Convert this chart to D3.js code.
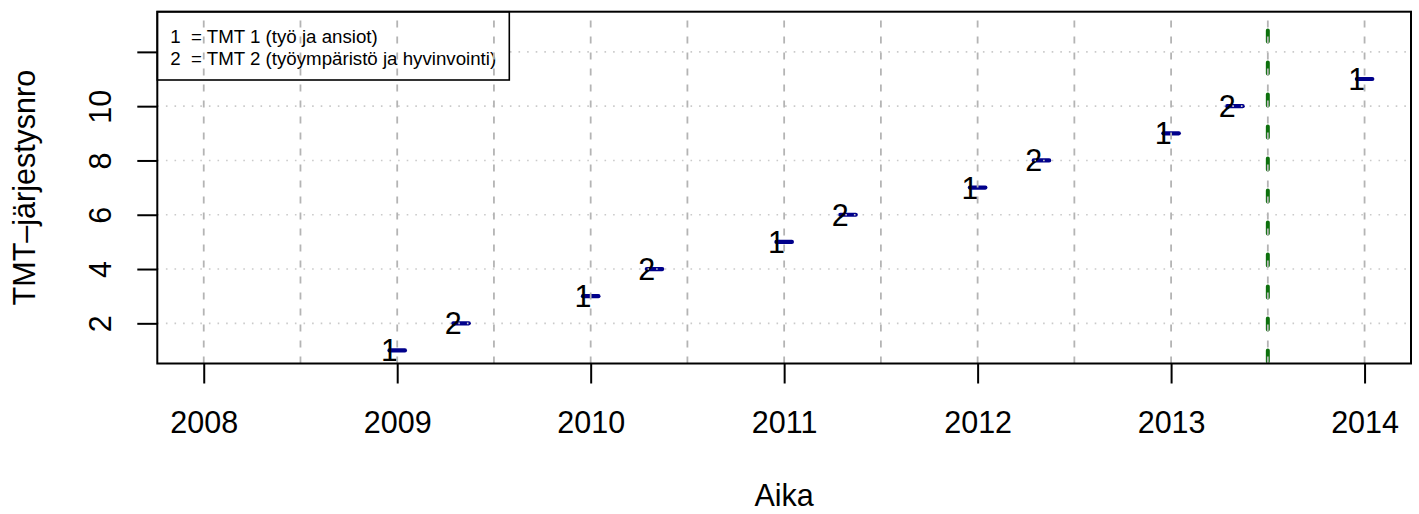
<!DOCTYPE html>
<html>
<head>
<meta charset="utf-8">
<script src="https://cdn.jsdelivr.net/npm/d3@7/dist/d3.min.js"></script>
<style>
  html, body { margin: 0; padding: 0; background: #fff; }
  svg { display: block; font-family: "Liberation Sans", Arial, Helvetica, sans-serif; }
</style>
</head>
<body>
<svg id="chart" width="1419" height="514"></svg>
<script>
// ---- data ----
const tmtNro   = [1, 2, 3, 4, 5, 6, 7, 8, 9, 10, 11];
const tmtTyyppi = ["1", "2", "1", "2", "1", "2", "1", "2", "1", "2", "1"];
const alku  = [2008.96, 2009.29, 2009.96, 2010.29, 2010.96, 2011.29, 2011.96, 2012.29, 2012.96, 2013.29, 2013.96];
const loppu = [2009.04, 2009.37, 2010.04, 2010.37, 2011.04, 2011.37, 2012.04, 2012.37, 2013.04, 2013.37, 2014.04];
const xTicks = [2008, 2009, 2010, 2011, 2012, 2013, 2014];
const xGrid  = [2008, 2008.5, 2009, 2009.5, 2010, 2010.5, 2011, 2011.5, 2012, 2012.5, 2013, 2013.5, 2014];
const yTicks = [2, 4, 6, 8, 10, 12];
const yLabels = ["2", "4", "6", "8", "10", ""];
const nykyhetki = [2013.5];
const legendSymbols = ["1", "2"];
const legendTexts = ["= TMT 1 (työ ja ansiot)", "= TMT 2 (työympäristö ja hyvinvointi)"];
const xTitle = "Aika";
const yTitle = "TMT–järjestysnro";

// ---- layout ----
const L = 157.3, R = 1411, T = 11.7, B = 363.5;
const svg = d3.select("#chart");
const x = d3.scaleLinear().domain([2007.76, 2014.24]).range([L, R]);
const y = d3.scaleLinear().domain([0.52, 13.48]).range([B, T]);
const FS = 30.5;

svg.append("defs").append("clipPath").attr("id", "clip")
  .append("rect").attr("x", L).attr("y", T).attr("width", R - L).attr("height", B - T);
const plot = svg.append("g").attr("clip-path", "url(#clip)");

const rows = tmtNro.map((n, i) => ({ n, t: tmtTyyppi[i], a: alku[i], l: loppu[i] }));

// segments
plot.selectAll("line.seg").data(rows).join("line")
  .attr("class", "seg")
  .attr("x1", d => x(d.a)).attr("x2", d => x(d.l))
  .attr("y1", d => y(d.n)).attr("y2", d => y(d.n))
  .attr("stroke", "#00008B").attr("stroke-width", 4.2).attr("stroke-linecap", "round");

// labels
plot.selectAll("text.lab").data(rows).join("text")
  .attr("class", "lab")
  .attr("x", d => x(d.a)).attr("y", d => y(d.n))
  .attr("dy", "0.36em")
  .attr("text-anchor", "middle")
  .attr("font-size", FS)
  .attr("fill", "#000")
  .text(d => d.t);

// horizontal grid (dotted)
plot.selectAll("line.hg").data(yTicks).join("line")
  .attr("class", "hg")
  .attr("x1", L).attr("x2", R)
  .attr("y1", d => y(d)).attr("y2", d => y(d))
  .attr("stroke", "#cacaca").attr("stroke-width", 1.6)
  .attr("stroke-dasharray", "1.6,7");

// legend box
const lg = svg.append("g");
lg.append("rect").attr("x", L).attr("y", T).attr("width", 509.3 - L).attr("height", 80 - T)
  .attr("fill", "#fff").attr("stroke", "#000").attr("stroke-width", 1.6);
legendSymbols.forEach((s, i) => {
  lg.append("text").attr("x", 175.5).attr("y", 43.3 + i * 21.2)
    .attr("text-anchor", "middle").attr("font-size", 18.7).text(s);
  lg.append("text").attr("x", 191).attr("y", 43.3 + i * 21.2)
    .attr("font-size", 18.7).text(legendTexts[i]);
});

// green line (current moment)
plot.selectAll("line.now").data(nykyhetki).join("line")
  .attr("class", "now")
  .attr("x1", d => x(d)).attr("x2", d => x(d))
  .attr("y1", B - 2).attr("y2", T)
  .attr("stroke", "#0d700d").attr("stroke-width", 4)
  .attr("stroke-linecap", "round")
  .attr("stroke-dasharray", "11,21");

// vertical grid (dashed)
svg.append("g").attr("clip-path", "url(#clip)")
  .selectAll("line.vg").data(xGrid).join("line")
  .attr("class", "vg")
  .attr("x1", d => x(d)).attr("x2", d => x(d))
  .attr("y1", B).attr("y2", T)
  .attr("stroke", "#b4b4b4").attr("stroke-width", 1.8)
  .attr("stroke-dasharray", "7,9");

// box
svg.append("rect").attr("x", L).attr("y", T).attr("width", R - L).attr("height", B - T)
  .attr("fill", "none").attr("stroke", "#000").attr("stroke-width", 2);

// x axis
const xa = svg.append("g").attr("transform", `translate(0,${B})`)
  .call(d3.axisBottom(x).tickValues(xTicks).tickSize(20).tickFormat(d3.format("d")));
xa.select(".domain").remove();
xa.attr("font-family", null);
xa.selectAll(".tick line").attr("stroke", "#000").attr("stroke-width", 2);
xa.selectAll(".tick text").attr("y", 433 - B).attr("dy", 0)
  .attr("font-size", FS).attr("fill", "#000");

// y axis
const ya = svg.append("g").attr("transform", `translate(${L},0)`)
  .call(d3.axisLeft(y).tickValues(yTicks).tickSize(20).tickFormat((d, i) => yLabels[i]));
ya.select(".domain").remove();
ya.attr("font-family", null);
ya.selectAll(".tick line").attr("stroke", "#000").attr("stroke-width", 2);
ya.selectAll(".tick text")
  .attr("transform", "rotate(-90)")
  .attr("x", 0).attr("y", 111 - L).attr("dy", 0)
  .attr("text-anchor", "middle")
  .attr("font-size", FS).attr("fill", "#000");

// titles
svg.append("text").attr("x", (L + R) / 2).attr("y", 506)
  .attr("text-anchor", "middle").attr("font-size", FS).text(xTitle);
svg.append("text").attr("transform", `translate(35.1,${(T + B) / 2}) rotate(-90)`)
  .attr("text-anchor", "middle").attr("font-size", FS).text(yTitle);
</script>
</body>
</html>
